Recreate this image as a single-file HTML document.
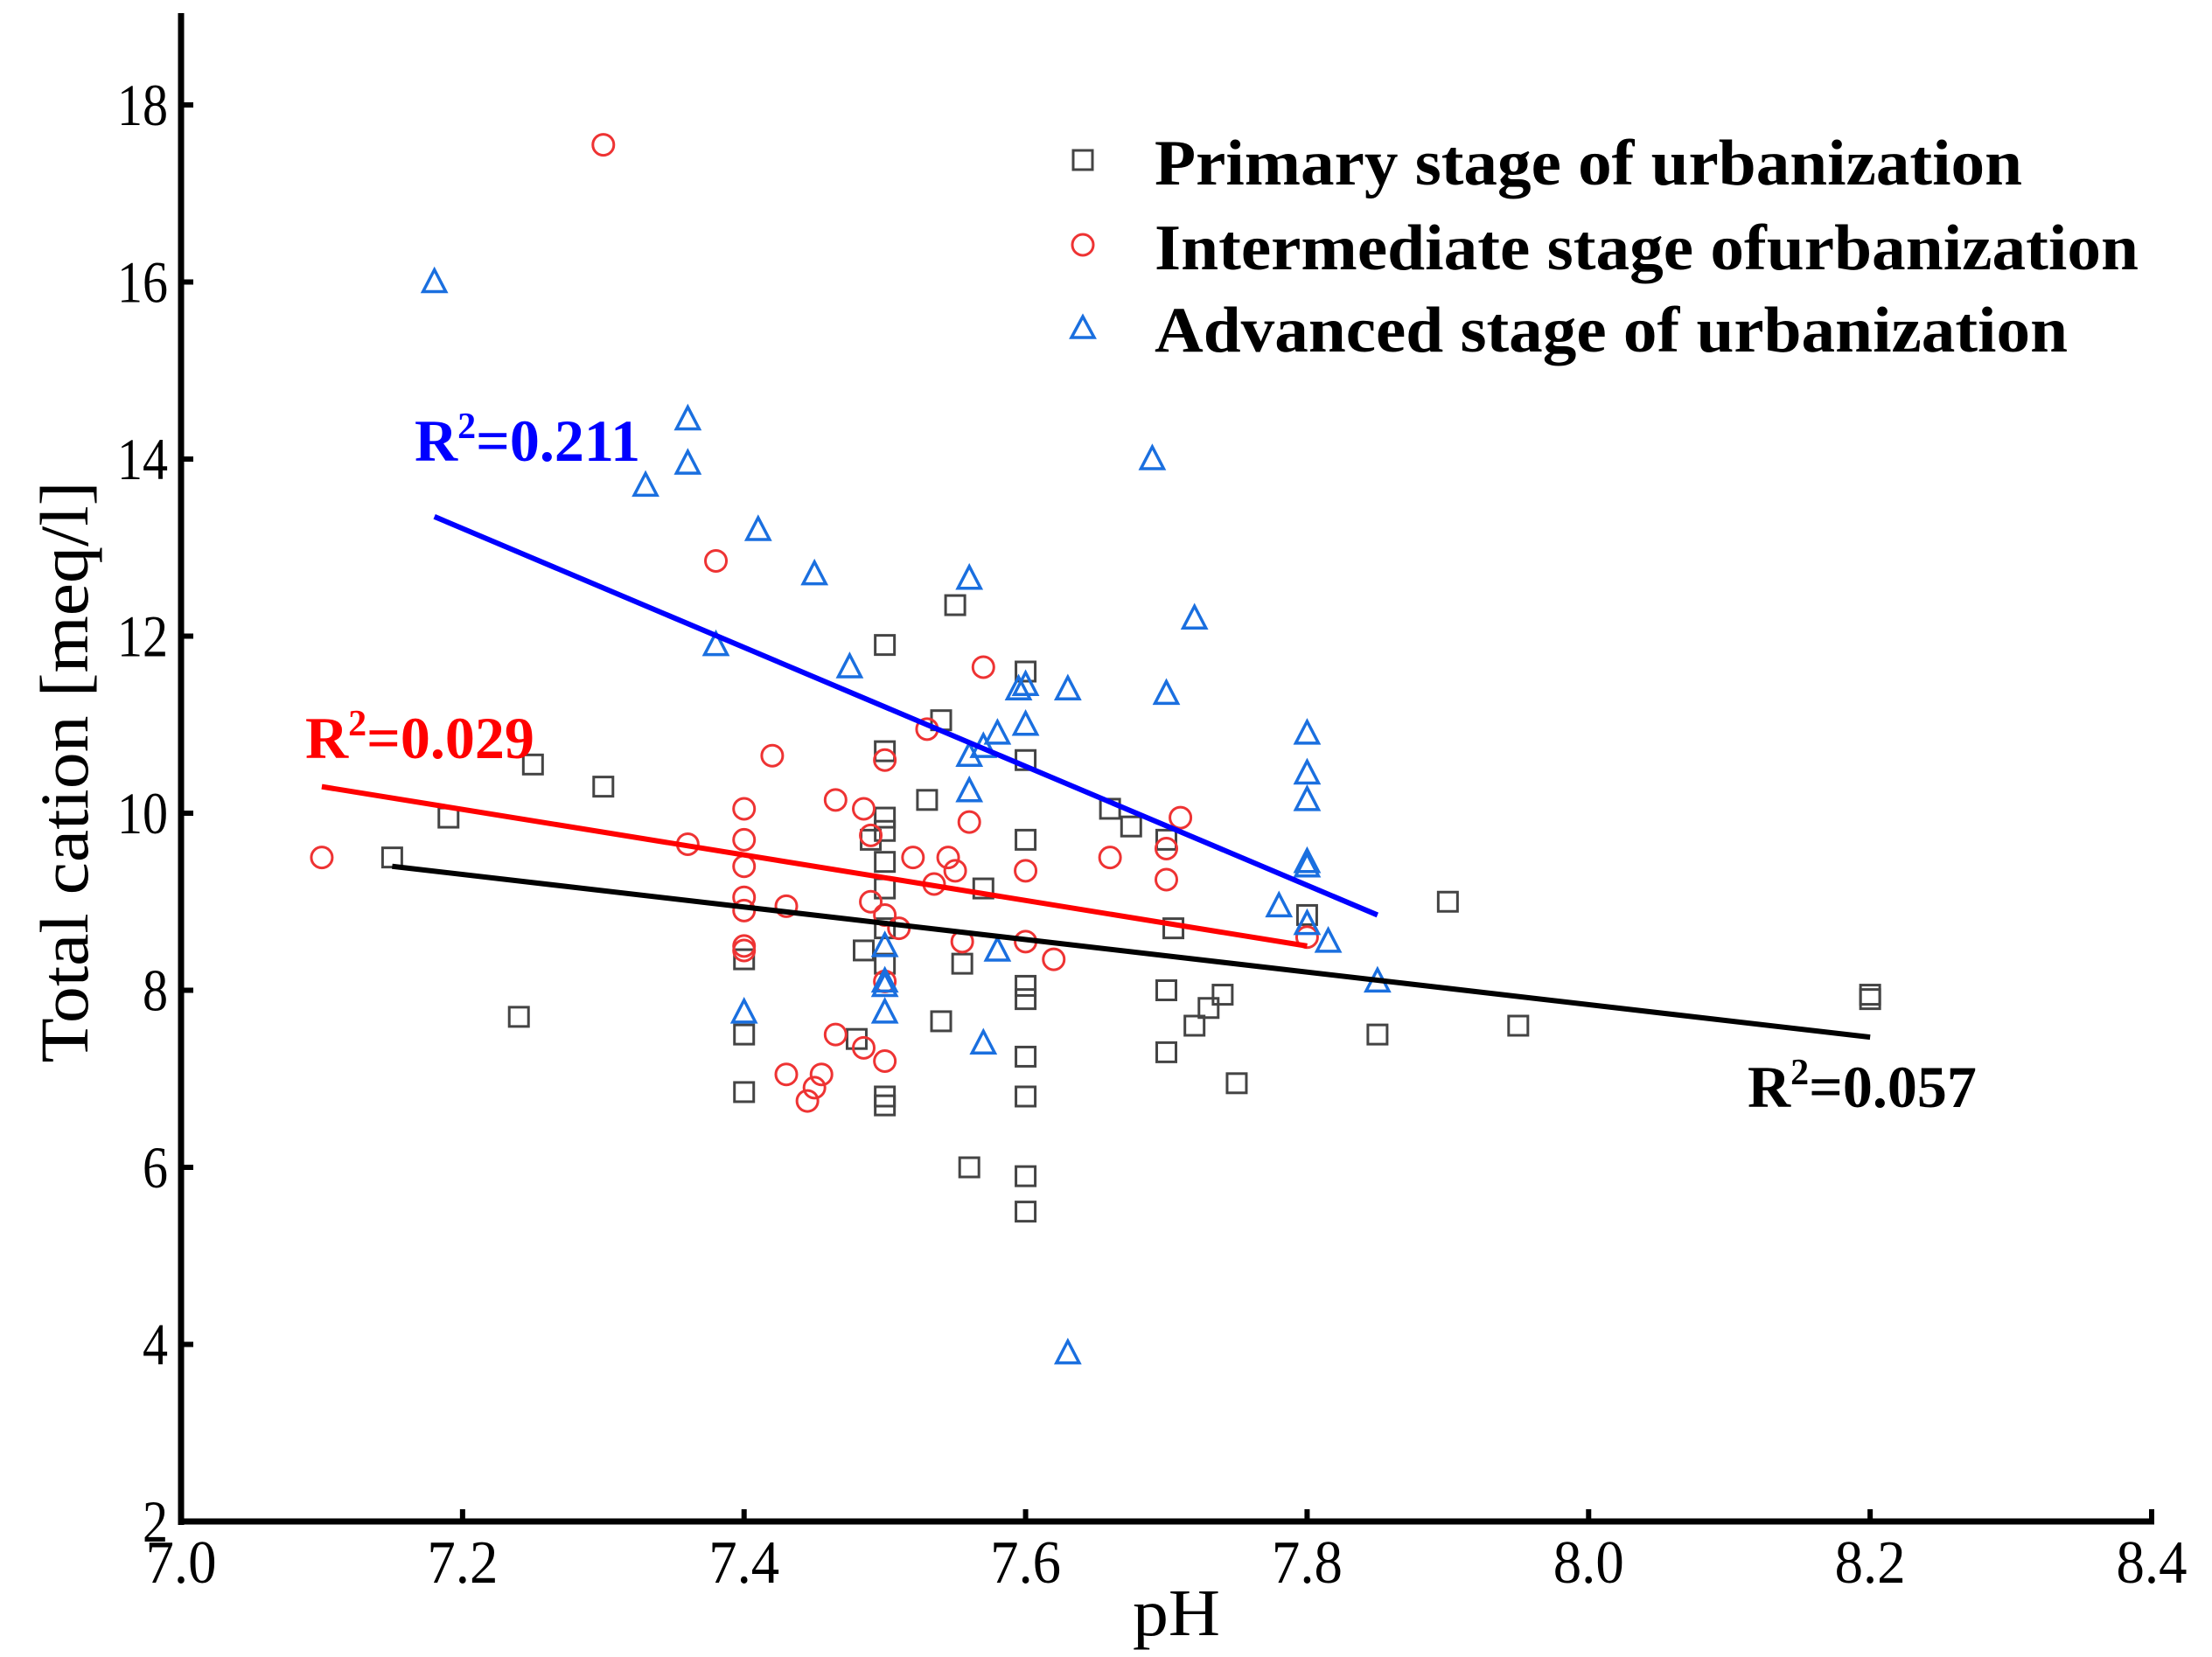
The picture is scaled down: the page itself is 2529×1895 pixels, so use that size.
<!DOCTYPE html>
<html><head><meta charset="utf-8"><style>
html,body{margin:0;padding:0;background:#fff}
svg{display:block}
text{font-family:"Liberation Serif",serif}
</style></head><body>
<svg id="chart" width="2529" height="1895" viewBox="0 0 2529 1895" xmlns="http://www.w3.org/2000/svg">
<g id="marks"></g>
<g id="axes"></g>
</svg>
<script>
const xTicks=[7.0,7.2,7.4,7.6,7.8,8.0,8.2,8.4];
const xTickLabels=["7.0","7.2","7.4","7.6","7.8","8.0","8.2","8.4"];
const yTicks=[2,4,6,8,10,12,14,16,18];
const yTickLabels=["2","4","6","8","10","12","14","16","18"];
const primaryX=[7.15,7.19,7.24,7.25,7.3,7.4,7.4,7.4,7.48,7.485,7.49,7.5,7.5,7.5,7.5,7.5,7.5,7.5,7.5,7.5,7.5,7.53,7.54,7.54,7.55,7.555,7.56,7.57,7.6,7.6,7.6,7.6,7.6,7.6,7.6,7.6,7.6,7.66,7.675,7.7,7.7,7.7,7.705,7.72,7.73,7.74,7.75,7.8,7.85,7.9,7.95,8.2,8.2];
const primaryY=[9.5,9.95,7.7,10.55,10.3,8.35,7.5,6.85,7.45,8.45,9.7,11.9,10.7,9.95,9.8,9.45,9.15,8.7,8.3,6.8,6.7,10.15,11.05,7.65,12.35,8.3,6.0,9.15,11.6,10.6,9.7,8.05,7.9,7.25,6.8,5.9,5.5,10.05,9.85,9.7,8.0,7.3,8.7,7.6,7.8,7.95,6.95,8.85,7.5,9.0,7.6,7.95,7.9];
const interX=[7.1,7.3,7.36,7.38,7.4,7.4,7.4,7.4,7.4,7.4,7.4,7.42,7.43,7.43,7.445,7.45,7.455,7.465,7.465,7.485,7.485,7.49,7.49,7.5,7.5,7.5,7.5,7.51,7.52,7.53,7.535,7.545,7.55,7.555,7.56,7.57,7.6,7.6,7.62,7.66,7.7,7.7,7.71,7.8];
const interY=[9.5,17.55,9.65,12.85,10.05,9.7,9.4,9.05,8.9,8.5,8.45,10.65,8.95,7.05,6.75,6.9,7.05,10.15,7.5,10.05,7.35,9.75,9.0,10.6,8.85,8.1,7.2,8.7,9.5,10.95,9.2,9.5,9.35,8.55,9.9,11.65,9.35,8.55,8.35,9.5,9.6,9.25,9.95,8.6];
const advX=[7.18,7.33,7.36,7.36,7.38,7.4,7.41,7.45,7.475,7.5,7.5,7.5,7.5,7.56,7.56,7.56,7.57,7.57,7.58,7.58,7.595,7.6,7.6,7.63,7.63,7.69,7.7,7.72,7.78,7.8,7.8,7.8,7.8,7.8,7.8,7.815,7.85];
const advY=[16.0,13.7,14.45,13.95,11.9,7.75,13.2,12.7,11.65,8.5,8.1,7.75,8.05,12.65,10.65,10.25,10.75,7.4,10.9,8.45,11.4,11.45,11.0,11.4,3.9,14.0,11.35,12.2,8.95,10.9,10.45,10.15,9.45,9.4,8.75,8.55,8.1];
const fitBlackX=[7.15,8.2], fitBlackY=[9.4,7.47];
const fitRedX=[7.1,7.8], fitRedY=[10.3,8.5];
const fitBlueX=[7.18,7.85], fitBlueY=[13.35,8.85];

const NS="http://www.w3.org/2000/svg";
const X0=207,X1=2460,Y0=1740,Y1=120;
const sx=v=>X0+(v-7.0)/(8.4-7.0)*(X1-X0);
const sy=v=>Y0-(v-2)/(18-2)*(Y0-Y1);
const marks=document.getElementById('marks');
const axes=document.getElementById('axes');
function mk(tag,attrs,parent){const e=document.createElementNS(NS,tag);for(const k in attrs)e.setAttribute(k,attrs[k]);parent.appendChild(e);return e;}

function square(cx,cy,p,col){return mk('rect',{x:cx-11,y:cy-11,width:22,height:22,fill:'none',stroke:col,'stroke-width':3},p);}
function circle(cx,cy,p,col){return mk('circle',{cx:cx,cy:cy,r:12,fill:'none',stroke:col,'stroke-width':3},p);}
function tri(cx,cy,p,col){return mk('polygon',{points:`${cx},${cy-14} ${cx-13},${cy+11} ${cx+13},${cy+11}`,fill:'none',stroke:col,'stroke-width':3.5},p);}

const gP=mk('g',{},marks);


primaryX.forEach((v,i)=>{const e=square(sx(v),sy(primaryY[i]),gP,'#444');

});
const gI=mk('g',{},marks);


interX.forEach((v,i)=>{const e=circle(sx(v),sy(interY[i]),gI,'#ee3333');

});
const gA=mk('g',{},marks);


advX.forEach((v,i)=>{const e=tri(sx(v),sy(advY[i]),gA,'#1a6fdf');

});

function fit(xs,ys,col,name){const e=mk('line',{x1:sx(xs[0]),y1:sy(ys[0]),x2:sx(xs[1]),y2:sy(ys[1]),stroke:col,'stroke-width':6},marks);

}
fit(fitBlackX,fitBlackY,'#000','primary-trendline');
fit(fitRedX,fitRedY,'#ff0000','intermediate-trendline');
fit(fitBlueX,fitBlueY,'#0000ff','advanced-trendline');

let a=mk('line',{x1:X0,y1:15,x2:X0,y2:Y0+4,stroke:'#000','stroke-width':7},axes);


a=mk('line',{x1:X0-3,y1:Y0,x2:X1+3,y2:Y0,stroke:'#000','stroke-width':7},axes);


xTicks.forEach((v,i)=>{
 const t=mk('line',{x1:sx(v),y1:Y0,x2:sx(v),y2:Y0-14,stroke:'#000','stroke-width':6},axes);
 
 
 const l=mk('text',{x:sx(v),y:Y0+70,'font-size':70,'text-anchor':'middle',textLength:xTickLabels[i].length*27,lengthAdjust:'spacingAndGlyphs'},axes);
 l.textContent=xTickLabels[i];
 
 
});
yTicks.forEach((v,i)=>{
 const t=mk('line',{x1:X0,y1:sy(v),x2:X0+14,y2:sy(v),stroke:'#000','stroke-width':6},axes);
 
 
 const l=mk('text',{x:192,y:sy(v)+23,'font-size':68,'text-anchor':'end',textLength:yTickLabels[i].length*29,lengthAdjust:'spacingAndGlyphs'},axes);
 l.textContent=yTickLabels[i];
 
 
});
</script>
<svg style="position:absolute;left:0;top:0" width="2529" height="1895">
<text x="1345" y="1870" font-size="76" text-anchor="middle" textLength="100" lengthAdjust="spacingAndGlyphs" style="font-family:'Liberation Serif',serif">pH</text>
<text transform="translate(100,883) rotate(-90)" x="0" y="0" font-size="78" text-anchor="middle" textLength="665" lengthAdjust="spacingAndGlyphs" style="font-family:'Liberation Serif',serif">Total cation [meq/l]</text>
<g font-weight="bold" font-size="74" style="font-family:'Liberation Serif',serif">
 <rect x="1227" y="172" width="22" height="22" fill="none" stroke="#444" stroke-width="3"/>
 <text x="1320" y="211" textLength="992" lengthAdjust="spacingAndGlyphs">Primary stage of urbanization</text>
 <circle cx="1238" cy="280" r="12" fill="none" stroke="#ee3333" stroke-width="3"/>
 <text x="1320" y="308" textLength="1125" lengthAdjust="spacingAndGlyphs">Intermediate stage ofurbanization</text>
 <polygon points="1238,362 1225,386 1251,386" fill="none" stroke="#1a6fdf" stroke-width="3.5"/>
 <text x="1320" y="402" textLength="1044" lengthAdjust="spacingAndGlyphs">Advanced stage of urbanization</text>
</g>
<g font-weight="bold" font-size="68" style="font-family:'Liberation Serif',serif">
 <text x="474" y="527" fill="#0000ff">R<tspan dy="-26" font-size="42">2</tspan><tspan dy="26">=0.211</tspan></text>
 <text x="349" y="867" fill="#ff0000">R<tspan dy="-26" font-size="42">2</tspan><tspan dy="26">=0.029</tspan></text>
 <text x="1998" y="1266" fill="#000">R<tspan dy="-26" font-size="42">2</tspan><tspan dy="26">=0.057</tspan></text>
</g>
</svg>
</body></html>
